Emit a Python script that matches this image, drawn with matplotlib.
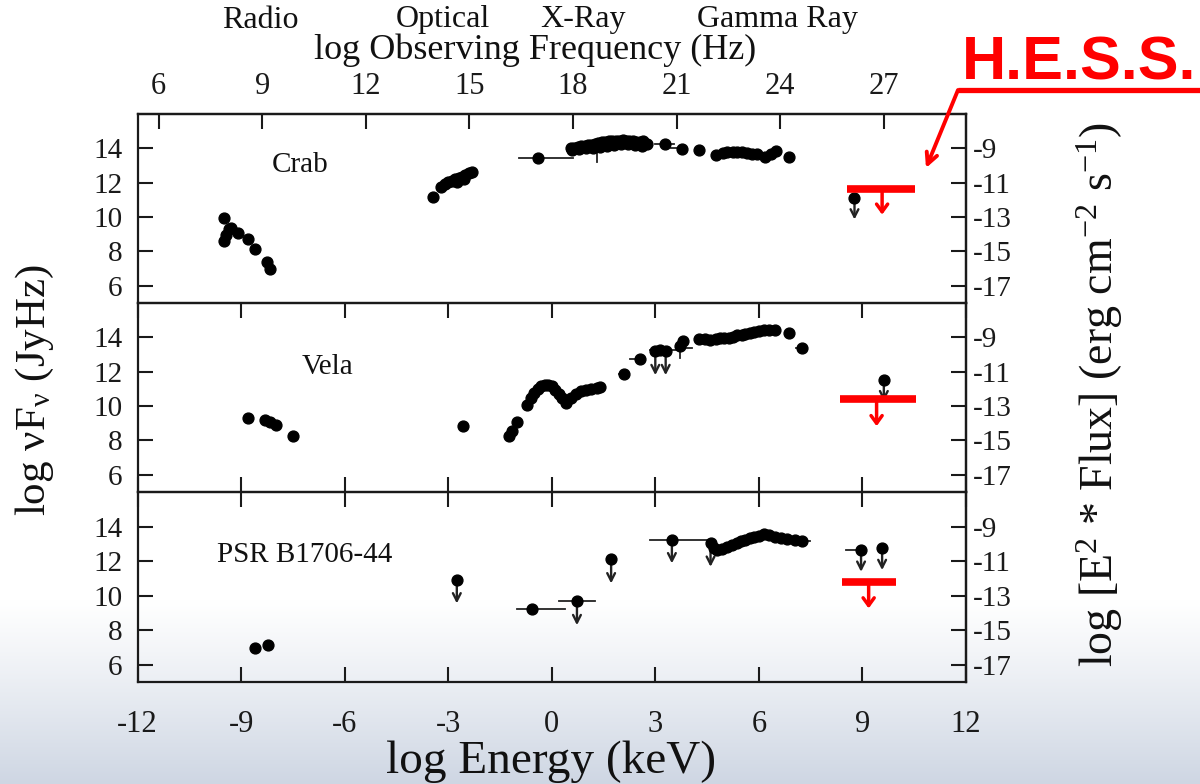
import numpy as np
import matplotlib
matplotlib.use("Agg")
import matplotlib.pyplot as plt
from matplotlib.lines import Line2D
from matplotlib.patches import FancyArrowPatch

plt.rcParams['font.family'] = ['Liberation Serif', 'DejaVu Serif']
plt.rcParams['mathtext.fontset'] = 'custom'
plt.rcParams['mathtext.rm'] = 'Liberation Serif'
plt.rcParams['mathtext.it'] = 'Liberation Serif:italic'
plt.rcParams['mathtext.bf'] = 'Liberation Serif:bold'

# ---------------- data (log E in keV, log nuF_nu in JyHz) ----------------
HZ_PER_KEV = 17.383          # log10(1 keV / h)
FLUX_OFFSET = 23.0           # log JyHz -> log erg cm^-2 s^-1

y_ticks = [6, 8, 10, 12, 14]
right_ticks = [-9, -11, -13, -15, -17]
bottom_ticks = [-12, -9, -6, -3, 0, 3, 6, 9, 12]
top_ticks = [6, 9, 12, 15, 18, 21, 24, 27]
bands = ["Radio", "Optical", "X-Ray", "Gamma Ray"]
band_x = [260, 443, 583, 777]

# Crab
crab_e = [-9.5, -9.5, -9.45, -9.35, -9.3, -9.1, -8.8, -8.6, -8.25, -8.15,
          -3.43, -3.2, -3.1, -3.0, -2.9, -2.8, -2.75, -2.7, -2.6, -2.55, -2.5, -2.4, -2.3,
          -0.41,
          0.55, 0.65, 0.75, 0.85, 0.95, 1.05, 1.15, 1.25, 1.35, 1.45, 1.55, 1.65, 1.75,
          1.85, 1.95, 2.05, 2.15, 2.25, 2.35, 2.45, 2.55, 2.65, 2.75,
          0.6, 0.8, 1.0, 1.2, 1.4, 1.6, 1.8, 2.0, 2.2, 2.4, 2.6,
          3.29, 3.77, 4.28,
          4.77, 4.96, 5.08, 5.25, 5.37, 5.5, 5.66, 5.8, 5.95, 6.19, 6.35, 6.51, 6.86]
crab_y = [9.95, 8.6, 8.95, 9.3, 9.35, 9.1, 8.7, 8.15, 7.4, 6.95,
          11.15, 11.75, 11.95, 12.05, 12.1, 12.2, 12.05, 12.25, 12.35, 12.2, 12.45, 12.55, 12.65,
          13.43,
          14.0, 14.05, 14.1, 14.15, 14.15, 14.2, 14.2, 14.25, 14.3, 14.35, 14.35, 14.4, 14.4,
          14.45, 14.45, 14.5, 14.45, 14.45, 14.4, 14.35, 14.35, 14.4, 14.25,
          13.9, 13.95, 14.0, 14.05, 14.1, 14.15, 14.2, 14.25, 14.25, 14.2, 14.15,
          14.26, 13.97, 13.91,
          13.62, 13.72, 13.8, 13.8, 13.78, 13.76, 13.72, 13.7, 13.66, 13.49, 13.7, 13.82, 13.49]
crab_xbars = [(-0.96, 0.63, 13.43), (3.0, 3.53, 14.26), (3.45, 3.77, 14.0)]
crab_ybars = [(1.31, 13.2, 14.1)]
crab_limits = [(8.77, 11.09, 9.86)]
crab_hess = (8.56, 10.52, 11.63, 9.57, 10.14)

# Vela
vela_e = [-8.8, -8.3, -8.15, -8.0, -7.5,
          -2.56,
          -1.25, -1.15, -1.0, -0.72, -0.6, -0.5, -0.4, -0.3, -0.2, -0.1, 0.0, 0.1, 0.2,
          0.3, 0.4, 0.55, 0.7, 0.85, 1.0, 1.15, 1.3, 1.4,
          2.09, 2.57, 3.15, 3.72, 3.81,
          4.26, 4.45, 4.59, 4.75, 4.88, 5.0, 5.13, 5.25, 5.37, 5.5, 5.61, 5.75, 5.86,
          6.0, 6.14, 6.3, 6.48, 6.86, 7.25]
vela_y = [9.3, 9.2, 9.05, 8.9, 8.25,
          8.87,
          8.25, 8.55, 9.05, 10.05, 10.45, 10.75, 11.0, 11.15, 11.25, 11.25, 11.15, 10.95, 10.7,
          10.45, 10.2, 10.5, 10.7, 10.85, 10.95, 11.0, 11.05, 11.1,
          11.88, 12.75, 13.25, 13.47, 13.81,
          13.91, 13.88, 13.86, 13.9, 13.95, 13.97, 13.99, 14.05, 14.11, 14.15, 14.2, 14.25, 14.3,
          14.35, 14.4, 14.42, 14.43, 14.24, 13.41]
vela_xbars = [(1.95, 2.09, 11.88), (2.28, 2.57, 12.75), (2.85, 3.63, 13.25),
              (3.6, 4.05, 13.4), (7.07, 7.25, 13.41)]
vela_ybars = [(3.72, 12.8, 13.9)]
vela_limits = [(3.0, 13.2, 11.8), (3.3, 13.2, 11.8), (9.62, 11.54, 10.28)]
vela_hess = (8.36, 10.54, 10.42, 9.41, 8.83)

# PSR B1706-44
psr_e = [-8.59, -8.21, -0.57,
         4.7, 4.79, 4.93, 5.08, 5.22, 5.37, 5.49, 5.61, 5.74, 5.86, 6.0, 6.14, 6.3, 6.48,
         6.65, 6.82, 7.05, 7.25]
psr_y = [6.94, 7.13, 9.2,
         12.75, 12.64, 12.72, 12.83, 12.95, 13.06, 13.14, 13.22, 13.32, 13.41, 13.48, 13.55,
         13.5, 13.41, 13.35, 13.26, 13.22, 13.18]
psr_xbars = [(-1.01, 0.39, 9.2), (0.2, 1.26, 9.7), (1.6, 1.85, 12.1), (2.86, 4.6, 13.22),
             (7.25, 7.49, 13.18), (8.51, 8.96, 12.64)]
psr_ybars = []
psr_limits = [(-2.75, 10.9, 9.55), (0.73, 9.7, 8.29), (1.72, 12.1, 10.71),
              (3.48, 13.22, 11.87), (4.6, 13.06, 11.67), (8.96, 12.64, 11.38),
              (9.57, 12.74, 11.48)]
psr_hess = (8.41, 9.96, 10.8, 9.18, 9.26)

panels = [
    ("Crab", (-7.3, 13.05), crab_e, crab_y, crab_xbars, crab_ybars, crab_limits, crab_hess),
    ("Vela", (-6.5, 12.3), vela_e, vela_y, vela_xbars, vela_ybars, vela_limits, vela_hess),
    ("PSR B1706-44", (-7.15, 12.35), psr_e, psr_y, psr_xbars, psr_ybars, psr_limits, psr_hess),
]

# ---------------- figure ----------------
W, H = 1200, 784
fig = plt.figure(figsize=(W / 100, H / 100), dpi=100)

# soft slide-style backdrop fading to grey-blue at the bottom
bg = fig.add_axes([0, 0, 1, 1], zorder=-10)
rows = np.arange(H)
t = np.clip((rows - 600) / (H - 600), 0, 1) ** 1.1
top_c = np.array([1.0, 1.0, 1.0])
bot_c = np.array([206, 214, 227]) / 255
grad = top_c[None, :] * (1 - t[:, None]) + bot_c[None, :] * t[:, None]
bg.imshow(grad[:, None, :], aspect='auto', extent=[0, 1, 0, 1], origin='upper')
bg.set_axis_off()

def px_x(p):
    return p / W

def px_y(p):
    return 1 - p / H

left, right = px_x(137.5), px_x(966)
edges = [114, 303, 492, 682]
axes = []
for i in range(3):
    b = px_y(edges[i + 1])
    h = px_y(edges[i]) - b
    ax = fig.add_axes([left, b, right - left, h])
    ax.set_facecolor('none')
    axes.append(ax)

tick_kw = dict(direction='in', length=11, width=1.5, colors='#1a1a1a')

for i, (ax, (name, lpos, ex, ey, xbars, ybars, limits, hess)) in enumerate(zip(axes, panels)):
    ax.set_xlim(-12, 12)
    ax.set_ylim(5, 16)
    for s in ax.spines.values():
        s.set_linewidth(1.6)
        s.set_color('#1a1a1a')

    # error bars and upper limits
    for x0, x1, yy in xbars:
        ax.plot([x0, x1], [yy, yy], color='#222222', lw=1.3, zorder=2)
    for xx, y0, y1 in ybars:
        ax.plot([xx, xx], [y0, y1], color='#222222', lw=1.3, zorder=2)
    for xx, yy, tip in limits:
        ax.annotate('', xy=(xx, tip), xytext=(xx, yy),
                    arrowprops=dict(arrowstyle='->,head_length=0.55,head_width=0.28',
                                    color='#222222', lw=1.7, shrinkA=0, shrinkB=0),
                    zorder=2)
    ax.plot([l[0] for l in limits], [l[1] for l in limits], 'o', color='black',
            ms=7.8, zorder=3)
    ax.plot(ex, ey, 'o', color='black', ms=7.8, mec='black', zorder=3)

    # H.E.S.S. upper limit
    h0, h1, hy, hx, htip = hess
    ax.plot([h0, h1], [hy, hy], color='#ff0000', lw=5.5, solid_capstyle='butt', zorder=4)
    ax.annotate('', xy=(hx, htip), xytext=(hx, hy),
                arrowprops=dict(arrowstyle='->,head_length=0.55,head_width=0.4',
                                color='#ff0000', lw=2.5, shrinkA=0, shrinkB=0),
                zorder=4)

    ax.text(lpos[0], lpos[1], name, fontsize=21, ha='center', va='center', color='#111111')

    # left axis
    ax.set_yticks(y_ticks)
    ax.set_yticklabels([str(v) for v in y_ticks], fontsize=21)
    ax.tick_params(axis='y', pad=11, **tick_kw)

    # energy ticks on top/bottom edges
    ax.set_xticks(bottom_ticks)
    if i == 0:
        ax.tick_params(axis='x', bottom=False, top=False, labelbottom=False)
    else:
        ax.tick_params(axis='x', top=True, bottom=True, labelbottom=(i == 2),
                       labelsize=22, pad=20, **tick_kw)
    if i == 2:
        ax.set_xticklabels([str(v) for v in bottom_ticks])

    # right axis in erg cm^-2 s^-1
    sec = ax.secondary_yaxis('right', functions=(lambda y: y - FLUX_OFFSET,
                                                 lambda y: y + FLUX_OFFSET))
    sec.set_yticks(right_ticks)
    sec.set_yticklabels([str(v) for v in right_ticks], fontsize=21)
    sec.tick_params(axis='y', pad=5, **tick_kw)
    sec.spines['right'].set_linewidth(1.6)

# frequency axis on the top panel
top = axes[0].secondary_xaxis('top', functions=(lambda e: e + HZ_PER_KEV,
                                               lambda f: f - HZ_PER_KEV))
top.set_xticks(top_ticks)
top.set_xticklabels([str(v) for v in top_ticks], fontsize=22)
top.tick_params(axis='x', pad=9, **tick_kw)
top.spines['top'].set_linewidth(1.6)

# axis titles
for name, bx in zip(bands, band_x):
    fig.text(px_x(bx), px_y(20), name, fontsize=23, ha='center', va='center', color='#111111')
fig.text(px_x(535), px_y(50), "log Observing Frequency (Hz)", fontsize=26,
         ha='center', va='center', color='#111111')
fig.text(px_x(551), px_y(762), "log Energy (keV)", fontsize=34,
         ha='center', va='center', color='#111111')
fig.text(px_x(35), px_y(390), r"log $\mathrm{\nu}$F$_\mathrm{\nu}$ (JyHz)", fontsize=31,
         rotation=90, ha='center', va='center', color='#111111')
fig.text(px_x(1100), px_y(395), r"log [E$^2$ * Flux] (erg cm$^{-2}$ s$^{-1}$)", fontsize=33,
         rotation=90, ha='center', va='center', color='#111111')

# H.E.S.S. annotation
fig.text(px_x(962), px_y(80), "H.E.S.S.", fontsize=44, fontweight='bold',
         family=['Liberation Sans', 'DejaVu Sans'], color='#ff0000',
         ha='left', va='baseline')
fig.add_artist(Line2D([px_x(958), 1.0], [px_y(90), px_y(90)], color='#ff0000', lw=3.8,
                      transform=fig.transFigure, solid_capstyle='butt'))
fig.add_artist(FancyArrowPatch(
    (px_x(958), px_y(90)), (px_x(926), px_y(168)), transform=fig.transFigure,
    arrowstyle='->,head_length=8,head_width=4', color='#ff0000', lw=2.8,
    shrinkA=0, shrinkB=0))

fig.savefig("out.png", dpi=100)
